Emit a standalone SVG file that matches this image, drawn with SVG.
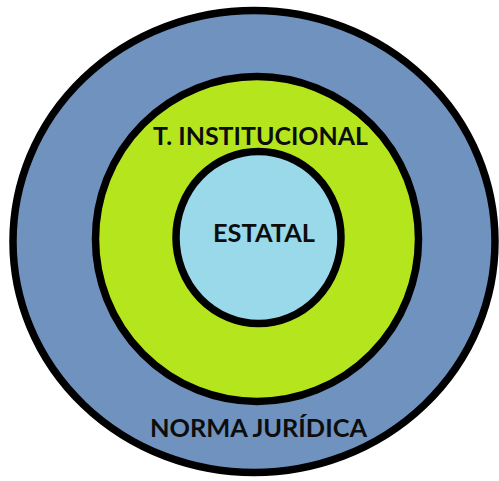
<svg xmlns="http://www.w3.org/2000/svg" width="499" height="481" viewBox="0 0 499 481">
<style>
.ring{stroke:#000;stroke-width:7.5}
.lbl{font-family:Lato,"Open Sans","Liberation Sans",sans-serif;font-weight:bold;font-size:24px;fill:#0d0d0d;text-anchor:middle}
</style>
<rect width="499" height="481" fill="#fff"/>
<g id="norma-juridica">
<ellipse class="ring" cx="254" cy="241.5" rx="241" ry="231" fill="#7092BE"/>
<text class="lbl" x="258.5" y="437" textLength="217" lengthAdjust="spacingAndGlyphs">NORMA JURÍDICA</text>
</g>
<g id="t-institucional">
<ellipse class="ring" cx="257" cy="239" rx="161.5" ry="162.5" fill="#B5E61D"/>
<text class="lbl" x="260.5" y="145" textLength="215" lengthAdjust="spacingAndGlyphs">T. INSTITUCIONAL</text>
</g>
<g id="estatal">
<ellipse class="ring" cx="258.5" cy="237.5" rx="82.5" ry="86" fill="#99D9EA"/>
<text class="lbl" x="264" y="242" textLength="102" lengthAdjust="spacingAndGlyphs">ESTATAL</text>
</g>
<g id="connectors"/>
</svg>
